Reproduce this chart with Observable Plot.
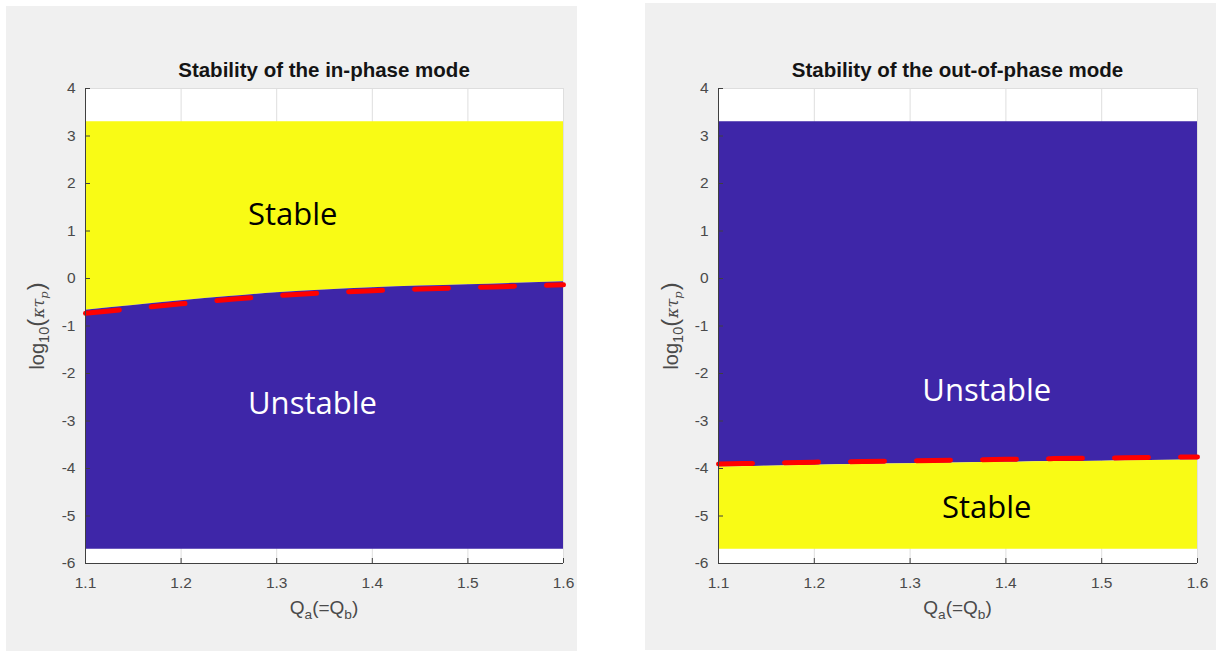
<!DOCTYPE html>
<html>
<head>
<meta charset="utf-8">
<script src="https://cdn.jsdelivr.net/npm/d3@7"></script>
<script src="https://cdn.jsdelivr.net/npm/@observablehq/plot@0.6"></script>
<style>
  body { margin: 0; background: #fff; width: 1220px; height: 652px; overflow: hidden; position: relative;
         font-family: "Liberation Sans", Arial, sans-serif; }
  .panel { position: absolute; background: #f0f0f0; overflow: hidden; }
  .panel svg { position: absolute; left: 0; top: 0; }
  .title { position: absolute; font-weight: bold; font-size: 20.5px; color: #141414; white-space: nowrap;
           transform: translate(-50%, -50%); }
  .xlab { position: absolute; font-size: 19px; color: #4a4a4a; white-space: nowrap; transform: translate(-50%, -50%); }
  .ylab { position: absolute; font-size: 20px; color: #4a4a4a; white-space: nowrap;
          transform: translate(-50%, -50%) rotate(-90deg); }
  .paren { font-size: 118%; }
  .sub { font-size: 72%; position: relative; top: 0.35em; }
  .tex { font-family: "DejaVu Serif", serif; font-style: italic; font-size: 80%; padding: 0 1px; }
</style>
</head>
<body>
<script>
// Axis ticks shared by both panels
const xTicks = [1.1, 1.2, 1.3, 1.4, 1.5, 1.6];
const yTicks = [-6, -5, -4, -3, -2, -1, 0, 1, 2, 3, 4];

// Extent of the computed stability map (log10 of kappa*tau_p)
const mapTop = 3.3;
const mapBottom = -5.7;

// Qa (= Qb) sample points along the stability boundary
const qa = [1.1, 1.15, 1.2, 1.25, 1.3, 1.35, 1.4, 1.45, 1.5, 1.55, 1.6];

// In-phase mode: boundary between stable (above) and unstable (below)
const inPhaseBoundary = [-0.67, -0.57, -0.47, -0.38, -0.30, -0.24, -0.195, -0.16, -0.13, -0.10, -0.07];

// Out-of-phase mode: boundary between unstable (above) and stable (below)
const outPhaseBoundary = [-3.97, -3.95, -3.93, -3.915, -3.90, -3.885, -3.87, -3.855, -3.845, -3.83, -3.82];

// Region labels
const inPhaseLabels = [
  {text: "Stable", q: 1.27, v: 1.33, color: "#000000"},
  {text: "Unstable", q: 1.27, v: -2.65, color: "#ffffff"}
];
const outPhaseLabels = [
  {text: "Unstable", q: 1.38, v: -2.38, color: "#ffffff"},
  {text: "Stable", q: 1.38, v: -4.83, color: "#000000"}
];

const BLUE = "#3e26a8";
const YELLOW = "#f9fb15";
const AXIS = "#404040";
const GRID = "#dedede";
const TICKTEXT = "#4a4a4a";

function panel({left, top, width, height, margins, title, boundary, stableAbove, labels, labelAnchor, dashShift, titleY, xlabY, ylabX}) {
  const rows = qa.map((q, i) => ({q, b: boundary[i]}));
  const upperFill = stableAbove ? YELLOW : BLUE;
  const lowerFill = stableAbove ? BLUE : YELLOW;

  const chart = Plot.plot({
    width, height,
    marginLeft: margins[0], marginRight: margins[1], marginTop: margins[2], marginBottom: margins[3],
    style: {background: "transparent", overflow: "hidden", fontFamily: "'Liberation Sans', Arial, sans-serif", fontSize: "15.5px", color: TICKTEXT},
    x: {domain: [xTicks[0], xTicks[xTicks.length - 1]], ticks: xTicks, tickFormat: d3.format(".1f"), label: null},
    y: {domain: [yTicks[0], yTicks[yTicks.length - 1]], ticks: yTicks, tickFormat: d => String(d), label: null},
    marks: [
      Plot.frame({fill: "white", stroke: null}),
      Plot.gridX(xTicks, {stroke: GRID, strokeOpacity: 1}),
      Plot.gridY(yTicks, {stroke: GRID, strokeOpacity: 1}),
      Plot.areaY(rows, {x: "q", y1: "b", y2: () => mapTop, fill: upperFill, curve: "monotone-x"}),
      Plot.areaY(rows, {x: "q", y1: () => mapBottom, y2: "b", fill: lowerFill, curve: "monotone-x"}),
      Plot.line(rows, {x: "q", y: "b", stroke: "#ff0000", strokeWidth: 5, strokeDasharray: "34,32",
                       dy: dashShift, curve: "monotone-x"}),
      Plot.text(labels, {x: "q", y: "v", text: "text", fill: "color", textAnchor: labelAnchor,
                         fontSize: 31, fontFamily: "'Open Sans', sans-serif"}),
      Plot.ruleX([xTicks[0]], {y1: yTicks[0], y2: yTicks[yTicks.length - 1], stroke: AXIS}),
      Plot.ruleY([yTicks[0]], {x1: xTicks[0], x2: xTicks[xTicks.length - 1], stroke: AXIS}),
      Plot.axisX(xTicks, {tickSize: -5, tickPadding: 18, stroke: AXIS, fill: TICKTEXT, tickFormat: d3.format(".1f"), label: null}),
      Plot.axisY(yTicks, {tickSize: -5, tickPadding: 15, stroke: AXIS, fill: TICKTEXT, tickFormat: d => String(d), label: null})
    ]
  });

  const box = document.createElement("div");
  box.className = "panel";
  Object.assign(box.style, {left: left + "px", top: top + "px", width: width + "px", height: height + "px"});
  box.appendChild(chart);

  const cx = margins[0] + (width - margins[0] - margins[1]) / 2;
  const cy = margins[2] + (height - margins[2] - margins[3]) / 2;

  const t = document.createElement("div");
  t.className = "title";
  t.textContent = title;
  Object.assign(t.style, {left: cx + "px", top: titleY + "px"});
  box.appendChild(t);

  const xl = document.createElement("div");
  xl.className = "xlab";
  xl.innerHTML = 'Q<span class="sub">a</span>(=Q<span class="sub">b</span>)';
  Object.assign(xl.style, {left: cx + "px", top: xlabY + "px"});
  box.appendChild(xl);

  const yl = document.createElement("div");
  yl.className = "ylab";
  yl.innerHTML = 'log<span class="sub">10</span><span class="paren">(</span><span class="tex">κτ<span class="sub">p</span></span><span class="paren">)</span>';
  Object.assign(yl.style, {left: ylabX + "px", top: cy + "px"});
  box.appendChild(yl);

  document.body.appendChild(box);
}

panel({
  left: 6, top: 6, width: 571, height: 645, margins: [79, 14, 82, 88],
  title: "Stability of the in-phase mode", boundary: inPhaseBoundary, stableAbove: true,
  labels: inPhaseLabels, labelAnchor: "start", dashShift: 3, titleY: 64, xlabY: 602, ylabX: 30
});
panel({
  left: 645, top: 3, width: 571, height: 647, margins: [73, 19, 85, 87],
  title: "Stability of the out-of-phase mode", boundary: outPhaseBoundary, stableAbove: false,
  labels: outPhaseLabels, labelAnchor: "middle", dashShift: -3, titleY: 67, xlabY: 605, ylabX: 25
});
</script>
</body>
</html>
